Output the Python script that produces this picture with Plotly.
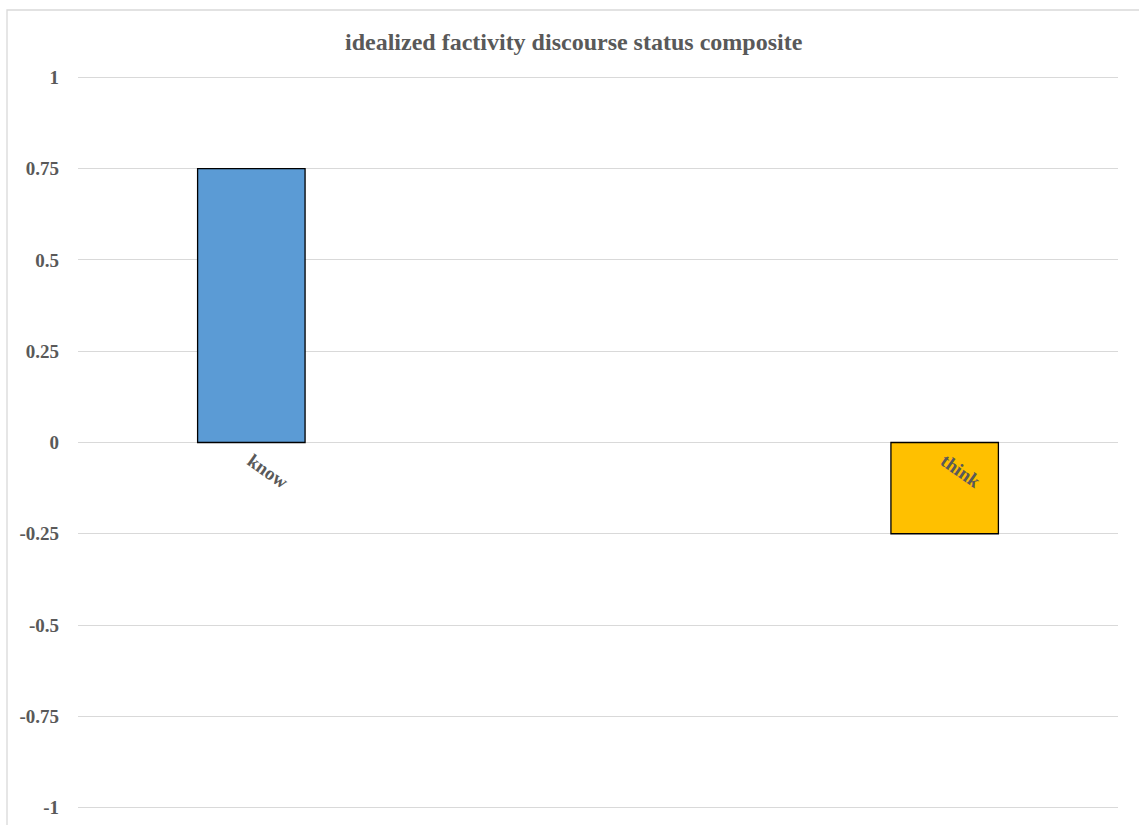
import plotly.graph_objects as go

categories = ["know", " ", "think"]
values = [0.75, None, -0.25]
colors = ["#5B9BD5", "#A5A5A5", "#FFC000"]
y_ticks = [1, 0.75, 0.5, 0.25, 0, -0.25, -0.5, -0.75, -1]
y_tick_labels = ["1", "0.75", "0.5", "0.25", "0", "-0.25", "-0.5", "-0.75", "-1"]
title_text = "idealized factivity discourse status composite"

W, H = 1139, 825
EXT = 0.004
L, R, T, B = 78, 21, 76, 16
pw, ph = W - L - R, H - T - B

FONT = "Liberation Serif"
GRAY = "#595959"

fig = go.Figure()
fig.add_trace(go.Bar(
    x=categories, y=values,
    marker=dict(color=colors, line=dict(color="#000000", width=1.3)),
    showlegend=False,
))

fig.update_layout(
    width=W, height=H,
    margin=dict(l=L, r=R, t=T, b=B, pad=0, autoexpand=False),
    paper_bgcolor="white", plot_bgcolor="white",
    bargap=0.69,
    showlegend=False,
    font=dict(family=FONT, color=GRAY),
    xaxis=dict(
        type="category", automargin=False,
        anchor="free", position=0.5,
        showgrid=False, zeroline=False, showline=False,
        ticks="", tickangle=35, ticklabelstandoff=3,
        tickfont=dict(family=FONT, size=19, color=GRAY, weight="bold"),
    ),
    yaxis=dict(
        range=[-1 - EXT, 1 + EXT], automargin=False,
        tickvals=y_ticks, ticktext=y_tick_labels,
        showgrid=True, gridcolor="#D9D9D9", gridwidth=1.3,
        zeroline=True, zerolinecolor="#D9D9D9", zerolinewidth=1.3,
        showline=False, ticks="",
        ticklabelstandoff=18,
        tickfont=dict(family=FONT, size=19, color=GRAY, weight="bold"),
    ),
    annotations=[dict(
        text=title_text, xref="paper", yref="paper",
        x=(574 - L) / pw, y=1 + (T - 42) / ph,
        xanchor="center", yanchor="middle", showarrow=False,
        font=dict(family=FONT, size=24, color=GRAY, weight="bold"),
    )],
    shapes=[dict(
        type="rect", xref="paper", yref="paper",
        x0=(7 - L) / pw, x1=1.2, y0=-0.2, y1=1 + (T - 10) / ph,
        line=dict(color="#D9D9D9", width=1.3), fillcolor="rgba(0,0,0,0)",
        layer="below",
    )],
)

fig.write_html("out.html")
